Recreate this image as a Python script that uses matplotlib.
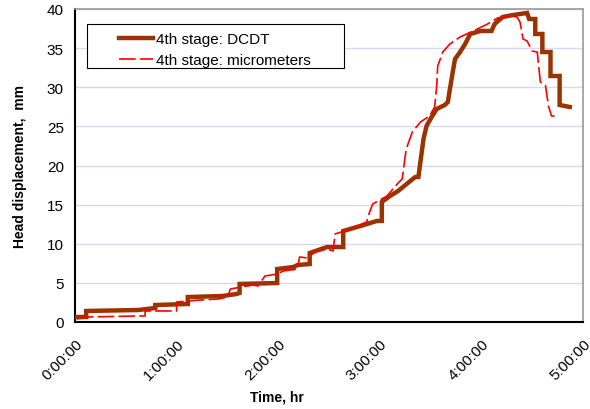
import matplotlib.pyplot as plt
from matplotlib.patches import Rectangle

plt.rcParams['font.family'] = ['Liberation Sans', 'DejaVu Sans']

# 4th stage: DCDT (hours, mm)
dcdt_t = [0.01, 0.11, 0.11, 0.62, 0.79, 0.79, 1.11, 1.11, 1.45, 1.59, 1.62, 1.62,
          1.99, 1.99, 2.15, 2.19, 2.31, 2.31, 2.48, 2.64, 2.64, 2.81, 2.97, 3.02,
          3.02, 3.10, 3.18, 3.30, 3.35, 3.38, 3.43, 3.46, 3.51, 3.56, 3.64, 3.67,
          3.69, 3.74, 3.79, 3.84, 3.89, 3.99, 4.10, 4.13, 4.21, 4.31, 4.45, 4.47,
          4.53, 4.53, 4.60, 4.60, 4.68, 4.68, 4.77, 4.77, 4.87]
dcdt_mm = [0.64, 0.64, 1.41, 1.53, 1.79, 2.17, 2.30, 3.19, 3.32, 3.58, 3.71, 4.86,
           4.98, 6.77, 7.03, 7.28, 7.41, 8.82, 9.58, 9.58, 11.63, 12.27, 12.91, 12.91,
           15.34, 16.10, 16.74, 18.02, 18.53, 18.53, 23.39, 25.05, 26.20, 27.22, 27.73, 28.12,
           29.78, 33.61, 34.50, 35.53, 36.81, 37.19, 37.19, 38.08, 38.98, 39.23, 39.49, 38.72,
           38.72, 36.81, 36.81, 34.50, 34.50, 31.44, 31.44, 27.73, 27.48]

# 4th stage: micrometers (hours, mm)
micro_t = [0.02, 0.10, 0.64, 0.69, 0.69, 1.00, 1.00, 1.23, 1.41, 1.50, 1.53, 1.75,
           1.80, 1.87, 1.99, 2.05, 2.19, 2.21, 2.29, 2.36, 2.48, 2.54, 2.56, 2.71,
           2.87, 2.90, 2.93, 3.07, 3.18, 3.22, 3.26, 3.32, 3.40, 3.49, 3.54, 3.56,
           3.57, 3.62, 3.69, 3.79, 3.92, 4.06, 4.16, 4.28, 4.35, 4.38, 4.41, 4.45,
           4.50, 4.55, 4.58, 4.63, 4.66, 4.69, 4.72]
micro_mm = [0.38, 0.64, 0.77, 0.77, 1.41, 1.41, 2.56, 2.81, 2.94, 3.19, 4.22, 4.73,
            4.60, 5.88, 6.13, 6.52, 6.77, 8.31, 8.18, 8.95, 9.33, 9.07, 11.25, 11.88,
            12.78, 14.06, 15.08, 16.10, 17.76, 18.27, 22.11, 24.28, 25.56, 26.33, 27.48, 30.16,
            32.72, 34.50, 35.53, 36.42, 37.19, 38.08, 38.85, 39.11, 38.98, 38.34, 36.17, 35.91,
            34.63, 34.50, 30.67, 30.29, 27.60, 26.33, 26.33]

x_ticks = [0, 1, 2, 3, 4, 5]
x_labels = ['0:00:00', '1:00:00', '2:00:00', '3:00:00', '4:00:00', '5:00:00']
y_ticks = [0, 5, 10, 15, 20, 25, 30, 35, 40]

fig = plt.figure(figsize=(5.9, 4.1), dpi=100)
ax = fig.add_axes([75 / 590, 1 - 323 / 410, 508 / 590, 313 / 410])

ax.plot(dcdt_t, dcdt_mm, color='#993300', lw=3.2, solid_joinstyle='miter',
        label='4th stage: DCDT', zorder=3)
ax.plot(micro_t, micro_mm, color='#FF0000', lw=1.2, dashes=(10, 2.5),
        label='4th stage: micrometers', zorder=4)

ax.set_xlim(0, 5)
ax.set_ylim(0, 40)
ax.set_xticks(x_ticks)
ax.set_xticklabels(x_labels, rotation=45, ha='right', rotation_mode='anchor', fontsize=11)
ax.set_yticks(y_ticks)
ax.tick_params(axis='y', length=0, pad=8, labelsize=11)
ax.tick_params(axis='x', length=0, pad=10)
ax.yaxis.grid(True, color='#D8D8F4', lw=1.0)
ax.set_axisbelow(True)

for s in ['left', 'bottom']:
    ax.spines[s].set_color('black')
    ax.spines[s].set_linewidth(1.5)
for s in ['top', 'right']:
    ax.spines[s].set_color('#999999')
    ax.spines[s].set_linewidth(1.2)

ax.set_ylabel('Head displacement,  mm', fontsize=10, fontweight='bold')
ax.yaxis.set_label_coords(-0.095, 0.5)
ax.set_xlabel('Time, hr', fontsize=10, fontweight='bold')
ax.xaxis.set_label_coords(0.398, -0.215)

# legend box
ax.add_patch(Rectangle((12 / 508, (323 - 69) / 313), 257 / 508, 44 / 313,
                       transform=ax.transAxes, facecolor='white', edgecolor='black',
                       lw=0.8, zorder=5))
leg = ax.legend(loc='upper left', bbox_to_anchor=(0.0866, 0.927), frameon=False,
                fontsize=11, handlelength=2.2, handletextpad=0.2, labelspacing=0.47,
                borderpad=0, borderaxespad=0)
leg.set_zorder(6)

fig.savefig('out.png', dpi=100)
